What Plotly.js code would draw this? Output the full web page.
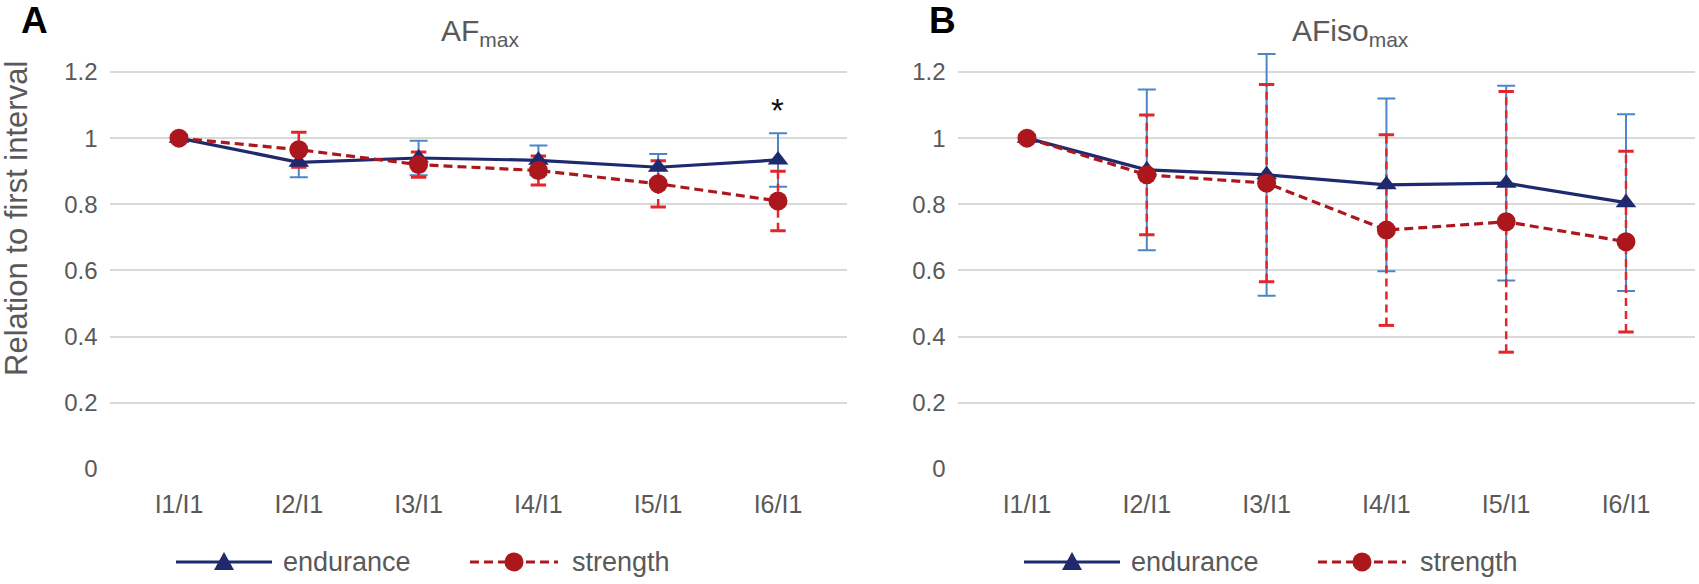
<!DOCTYPE html>
<html>
<head>
<meta charset="utf-8">
<script src="https://cdn.plot.ly/plotly-3.0.1.min.js"></script>
<style>html,body{margin:0;padding:0;background:#fff;}#chart{width:1699px;height:584px;}</style>
</head>
<body>
<div id="chart"></div>
<script>
const categories = ['I1/I1', 'I2/I1', 'I3/I1', 'I4/I1', 'I5/I1', 'I6/I1'];
const yTickValues = [0, 0.2, 0.4, 0.6, 0.8, 1, 1.2];

// Panel A: AFmax
const enduranceA    = [1.000, 0.927, 0.940, 0.933, 0.912, 0.934];
const enduranceAErr = [0.010, 0.045, 0.052, 0.045, 0.040, 0.081];
const strengthA     = [1.000, 0.965, 0.920, 0.902, 0.862, 0.810];
const strengthAErr  = [0.010, 0.053, 0.038, 0.044, 0.070, 0.090];

// Panel B: AFisomax
const enduranceB    = [1.000, 0.904, 0.889, 0.859, 0.864, 0.805];
const enduranceBErr = [0.010, 0.243, 0.365, 0.261, 0.294, 0.267];
const strengthB     = [1.000, 0.889, 0.864, 0.722, 0.747, 0.687];
const strengthBErr  = [0.010, 0.181, 0.298, 0.288, 0.394, 0.273];

const seriesNames = ['endurance', 'strength'];
const panelTitles = ['AF<sub>max</sub>', 'AFiso<sub>max</sub>'];
const panelLetters = ['A', 'B'];
const yAxisTitle = 'Relation to first interval';
const significance = ['', '', '', '', '', '*'];

const NAVY = '#1F2A6E', BLUE_ERR = '#4A86C8', DARKRED = '#AC171E', RED_ERR = '#E3262B';
const GREY_TXT = '#595959';
const FONT = 'Liberation Sans, Arial, sans-serif';

function redErrTraces(vals, errs, xa, ya) {
  const xs = [], ys = [], cx = [], cy = [];
  vals.forEach((v, i) => {
    xs.push(categories[i], categories[i], null);
    ys.push(v - errs[i], v + errs[i], null);
    cx.push(categories[i], categories[i]);
    cy.push(v - errs[i], v + errs[i]);
  });
  return [
    {x: xs, y: ys, xaxis: xa, yaxis: ya, mode: 'lines', showlegend: false, hoverinfo: 'skip',
     line: {color: RED_ERR, width: 2.5, dash: '8px,5px'}},
    {x: cx, y: cy, xaxis: xa, yaxis: ya, mode: 'markers', showlegend: false, hoverinfo: 'skip',
     marker: {symbol: 'line-ew-open', size: 11, color: RED_ERR, line: {color: RED_ERR, width: 3}}}
  ];
}

function panelTraces(endV, endE, strV, strE, xa, ya) {
  const t = [];
  t.push({x: categories, y: endV, xaxis: xa, yaxis: ya, mode: 'none', showlegend: false, hoverinfo: 'skip',
    error_y: {type: 'data', array: endE, visible: true, color: BLUE_ERR, thickness: 2, width: 9}});
  t.push(...redErrTraces(strV, strE, xa, ya));
  t.push({x: categories, y: endV, xaxis: xa, yaxis: ya, name: seriesNames[0], showlegend: false,
    mode: 'lines+markers', line: {color: NAVY, width: 3.2},
    marker: {symbol: 'triangle-up', size: 18, color: NAVY}});
  t.push({x: categories, y: strV, xaxis: xa, yaxis: ya, name: seriesNames[1], showlegend: false,
    mode: 'lines+markers', line: {color: DARKRED, width: 3.2, dash: '9px,5px'},
    marker: {symbol: 'circle', size: 19, color: DARKRED}});
  return t;
}

const data = [
  ...panelTraces(enduranceA, enduranceAErr, strengthA, strengthAErr, 'x', 'y'),
  ...panelTraces(enduranceB, enduranceBErr, strengthB, strengthBErr, 'x2', 'y2')
];

const W = 1699, H = 584;
const px = v => v / W, py = v => 1 - v / H;
const plotBottom = 469, plotTop = 48.8;
const yDomain = [1 - plotBottom / H, 1 - plotTop / H];
const catStep = 119.8, pad = 0.58;
const firstA = 179, firstB = 1027;
const xDomA = [px(firstA - pad * catStep), px(firstA + (5 + pad) * catStep)];
const xDomB = [px(firstB - pad * catStep), Math.min(1, px(firstB + (5 + pad) * catStep))];
const panelShift = 848;

function xAxis(dom, anchor) {
  return {domain: dom, anchor: anchor, type: 'category', range: [-pad, 5 + pad], showgrid: false,
    zeroline: false, showline: false, ticks: '', ticklabelstandoff: 18,
    tickfont: {family: FONT, size: 25, color: GREY_TXT}, fixedrange: true};
}
function yAxis(anchor) {
  return {domain: yDomain, anchor: anchor, range: [0, 1.27], tickmode: 'array', tickvals: yTickValues,
    ticktext: yTickValues.map(v => String(v)), showgrid: true, gridcolor: '#D9D9D9', gridwidth: 2,
    zeroline: false, showline: false, ticks: '', ticklabelstandoff: 11,
    tickfont: {family: FONT, size: 24, color: GREY_TXT}, fixedrange: true};
}

const annotations = [
  {xref: 'paper', yref: 'paper', x: px(439), y: py(32), text: panelTitles[0],
   showarrow: false, font: {family: FONT, size: 30, color: GREY_TXT}, xanchor: 'left', yanchor: 'middle'},
  {xref: 'paper', yref: 'paper', x: px(1290), y: py(32), text: panelTitles[1],
   showarrow: false, font: {family: FONT, size: 30, color: GREY_TXT}, xanchor: 'left', yanchor: 'middle'},
  {xref: 'paper', yref: 'paper', x: px(34), y: py(21), text: '<b>' + panelLetters[0] + '</b>',
   showarrow: false, font: {family: FONT, size: 37, color: '#000'}, xanchor: 'center', yanchor: 'middle'},
  {xref: 'paper', yref: 'paper', x: px(942), y: py(21), text: '<b>' + panelLetters[1] + '</b>',
   showarrow: false, font: {family: FONT, size: 37, color: '#000'}, xanchor: 'center', yanchor: 'middle'},
  {xref: 'paper', yref: 'paper', x: px(16), y: py(219), text: yAxisTitle, textangle: -90,
   showarrow: false, font: {family: FONT, size: 31, color: GREY_TXT}, xanchor: 'center', yanchor: 'middle'}
];
significance.forEach((s, i) => {
  if (s) annotations.push({xref: 'x', yref: 'y', x: categories[i], y: enduranceA[i] + enduranceAErr[i],
    text: s, showarrow: false, yanchor: 'bottom', yshift: 2,
    font: {family: FONT, size: 33, color: '#111'}});
});

// Legend (one per panel), drawn like the spreadsheet legend: long line with marker in its middle
const shapes = [];
const legY = 562;
[0, panelShift].forEach(off => {
  const e0 = 176 + off, e1 = 272 + off, ec = (e0 + e1) / 2;
  const s0 = 470 + off, s1 = 558 + off, sc = (s0 + s1) / 2;
  shapes.push({type: 'line', xref: 'paper', yref: 'paper', x0: px(e0), x1: px(e1), y0: py(legY), y1: py(legY),
    line: {color: NAVY, width: 3.2}});
  shapes.push({type: 'path', xref: 'paper', yref: 'paper', fillcolor: NAVY, line: {width: 0},
    path: `M ${px(ec - 10)} ${py(legY + 8)} L ${px(ec + 10)} ${py(legY + 8)} L ${px(ec)} ${py(legY - 10)} Z`});
  shapes.push({type: 'line', xref: 'paper', yref: 'paper', x0: px(s0), x1: px(s1), y0: py(legY), y1: py(legY),
    line: {color: DARKRED, width: 3.2, dash: '9px,5px'}});
  shapes.push({type: 'circle', xref: 'paper', yref: 'paper', fillcolor: DARKRED, line: {width: 0},
    x0: px(sc - 9.5), x1: px(sc + 9.5), y0: py(legY + 9.5), y1: py(legY - 9.5)});
  annotations.push({xref: 'paper', yref: 'paper', x: px(281 + off), y: py(legY), text: seriesNames[0],
    showarrow: false, xanchor: 'left', yanchor: 'middle', font: {family: FONT, size: 27, color: GREY_TXT}});
  annotations.push({xref: 'paper', yref: 'paper', x: px(570 + off), y: py(legY), text: seriesNames[1],
    showarrow: false, xanchor: 'left', yanchor: 'middle', font: {family: FONT, size: 27, color: GREY_TXT}});
});

const layout = {
  width: W, height: H, margin: {l: 0, r: 0, t: 0, b: 0, autoexpand: false},
  paper_bgcolor: '#fff', plot_bgcolor: '#fff', showlegend: false,
  xaxis: xAxis(xDomA, 'y'), yaxis: yAxis('x'),
  xaxis2: xAxis(xDomB, 'y2'), yaxis2: yAxis('x2'),
  annotations: annotations, shapes: shapes,
  font: {family: FONT}
};

Plotly.newPlot('chart', data, layout, {displayModeBar: false, staticPlot: true});
</script>
</body>
</html>
